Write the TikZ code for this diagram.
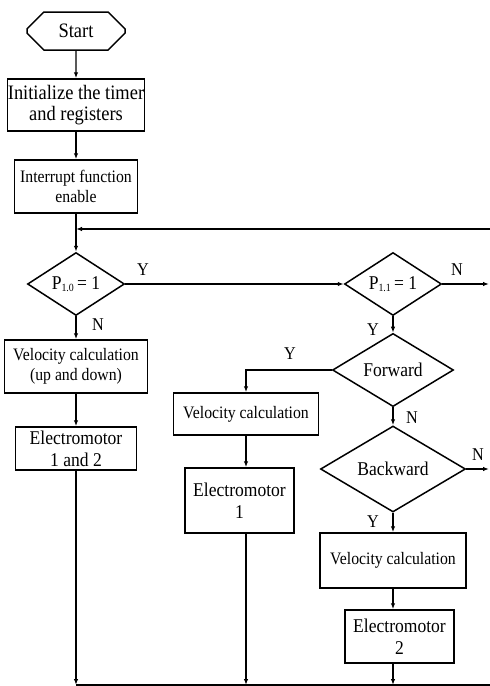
\documentclass[tikz,border=0pt]{standalone}
\usepackage{fontspec}
\setmainfont{Liberation Serif}[FakeStretch=0.9]
\usetikzlibrary{shapes.geometric,shapes.misc,arrows.meta}
\begin{document}
\begin{tikzpicture}[x=1pt,y=-1pt,
  box/.style={draw,line width=1.5pt,inner sep=0pt,align=center},
  dia/.style={draw,diamond,line width=1.5pt,inner sep=0pt},
  conn/.style={line width=1.2pt},
  arr/.style={line width=1.2pt,-{Latex[length=6pt,width=4.5pt]}},
  lab/.style={font=\fontsize{18}{18}\selectfont,inner sep=0pt},
  big/.style={font=\fontsize{20.5}{21}\selectfont},
  mid/.style={font=\fontsize{19.5}{22}\selectfont},
  small/.style={font=\fontsize{17.5}{20}\selectfont}]
\useasboundingbox (0,0) rectangle (490,686);
% left column
\node[box,big,chamfered rectangle,chamfered rectangle xsep=10pt,chamfered rectangle ysep=10pt,minimum width=98pt,minimum height=38pt] (start) at (76,31) {Start};
\node[box,big,minimum width=137pt,minimum height=52pt] (init) at (76,105) {Initialize the timer\\and registers};
\node[box,small,minimum width=123pt,minimum height=53pt] (intr) at (76,186.5) {Interrupt function\\enable};
\node[dia,mid,minimum width=97pt,minimum height=62pt] (p10) at (76,284) {P\raisebox{-1.5pt}{\fontsize{11}{11}\selectfont 1.0}\,= 1};
\node[box,small,minimum width=143pt,minimum height=53pt] (vc1) at (76,366.5) {Velocity calculation\\(up and down)};
\node[box,mid,minimum width=121pt,minimum height=43pt] (em12) at (76,448.5) {Electromotor\\1 and 2};
% right column
\node[dia,mid,minimum width=97pt,minimum height=62pt] (p11) at (393,284) {P\raisebox{-1.5pt}{\fontsize{11}{11}\selectfont 1.1}\,= 1};
\node[dia,mid,minimum width=121pt,minimum height=64pt] (fwd) at (393,370) {Forward};
\node[dia,mid,minimum width=145pt,minimum height=86pt] (bwd) at (393,469) {Backward};
\node[box,small,minimum width=146pt,minimum height=55pt] (vc3) at (393,560.5) {Velocity calculation};
\node[box,mid,minimum width=109pt,minimum height=53pt] (em2) at (399.5,636.5) {Electromotor\\2};
% middle column
\node[box,small,minimum width=145pt,minimum height=42pt] (vc2) at (246,414) {Velocity calculation};
\node[box,mid,minimum width=109pt,minimum height=65pt] (em1) at (239.5,500.5) {Electromotor\\1};
% free ends
\coordinate (tr) at (490,229);
\coordinate (r1) at (489,284);
\coordinate (r2) at (489,469);
\coordinate (bl) at (76,685);
\coordinate (bm) at (246,685);
\coordinate (bR) at (393,685);
\coordinate (br) at (490,685);
% connectors
\draw[arr] (start) -- (init);
\draw[arr] (init) -- (intr);
\draw[arr] (intr) -- (p10);
\draw[arr] (tr) -- (tr -| intr.south);
\draw[arr] (p10) -- (vc1);
\draw[arr] (vc1) -- (em12);
\draw[arr] (em12) -- (bl);
\draw[arr] (p10.east) -- (p11.west);
\draw[arr] (p11.east) -- (r1);
\draw[arr] (p11) -- (fwd);
\draw[arr] (fwd) -- (bwd);
\draw[arr] (bwd.east) -- (r2);
\draw[arr] (bwd) -- (vc3);
\draw[arr] (vc3.south) -- (vc3.south |- em2.north);
\draw[arr] (em2.south -| bR) -- (bR);
\draw[arr] (fwd.west) -| (vc2.north);
\draw[arr] (vc2.south) -- (vc2.south |- em1.north);
\draw[arr] (em1.south -| bm) -- (bm);
\draw[conn] (bl) -- (br);
% labels
\node[lab] (y1) at (143,270) {Y};
\node[lab] (n1) at (98,325) {N};
\node[lab] (n2) at (457,270) {N};
\node[lab] (y2) at (373,330) {Y};
\node[lab] (y3) at (290,354) {Y};
\node[lab] (n3) at (412,418) {N};
\node[lab] (n4) at (478,455) {N};
\node[lab] (y4) at (373,522) {Y};
\end{tikzpicture}
\end{document}
